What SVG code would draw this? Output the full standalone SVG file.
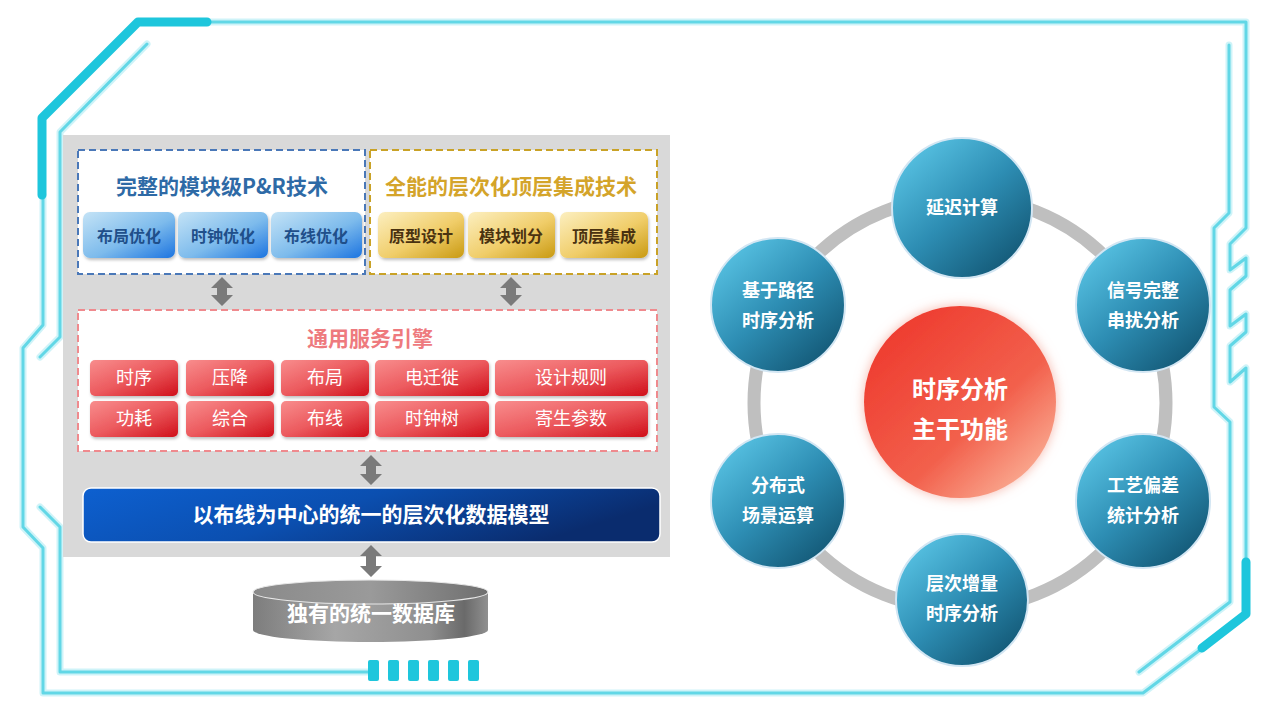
<svg xmlns="http://www.w3.org/2000/svg" width="1265" height="712" viewBox="0 0 1265 712">
<defs>
<style>
.fr{fill:none;stroke:#62d7e6;stroke-width:3;stroke-linecap:round;stroke-linejoin:round}
.frg{fill:none;stroke:#c2f0f6;stroke-width:7;stroke-linecap:round;stroke-linejoin:round;opacity:.8}
.frt{fill:none;stroke:#1ec6dc;stroke-width:9;stroke-linecap:round;stroke-linejoin:round}
.t{font-family:"Noto Sans CJK SC","Noto Sans",sans-serif;text-anchor:middle}
.b{font-weight:bold}
.bb{fill:url(#gBlue)}
.gb{fill:url(#gGold)}
.rb{fill:url(#gRed)}
.bt{font-size:16px;font-weight:bold;fill:#1f4f8a}
.gt{font-size:16px;font-weight:bold;fill:#4a3210}
.rt{font-size:18px;fill:#ffffff}
.node{fill:url(#gNode);stroke:#d3e6f3;stroke-width:2}
.nt{font-size:18px;font-weight:bold;fill:#ffffff}
.arr{fill:#7a7a7a}
</style>
<linearGradient id="gBlue" x1="0" y1="0" x2="1" y2="1"><stop offset="0" stop-color="#c4e3f6"/><stop offset="0.55" stop-color="#7dbbec"/><stop offset="1" stop-color="#1c74e0"/></linearGradient>
<linearGradient id="gGold" x1="0" y1="0" x2="1" y2="1"><stop offset="0" stop-color="#fcefc0"/><stop offset="0.55" stop-color="#f0cd69"/><stop offset="1" stop-color="#c99a12"/></linearGradient>
<linearGradient id="gRed" x1="0" y1="0" x2="1" y2="1"><stop offset="0" stop-color="#f88d8d"/><stop offset="0.5" stop-color="#ec5a5e"/><stop offset="1" stop-color="#d0101a"/></linearGradient>
<linearGradient id="gBar" x1="0" y1="0" x2="1" y2="0.3"><stop offset="0" stop-color="#0d60d0"/><stop offset="0.5" stop-color="#0b4fb0"/><stop offset="1" stop-color="#0a2c6e"/></linearGradient>
<linearGradient id="gNode" x1="0.15" y1="0.1" x2="0.85" y2="0.9"><stop offset="0" stop-color="#55bfe0"/><stop offset="0.5" stop-color="#2d8db3"/><stop offset="1" stop-color="#145a78"/></linearGradient>
<linearGradient id="gCenter" x1="0.1" y1="0.1" x2="0.9" y2="0.95"><stop offset="0" stop-color="#ee3a2e"/><stop offset="0.6" stop-color="#f2604c"/><stop offset="1" stop-color="#fbb59b"/></linearGradient>
<linearGradient id="gCyl" x1="0" y1="0" x2="1" y2="0"><stop offset="0" stop-color="#7d7d7d"/><stop offset="0.35" stop-color="#a6a6a6"/><stop offset="0.75" stop-color="#8f8f8f"/><stop offset="0.9" stop-color="#6a6a6a"/><stop offset="1" stop-color="#909090"/></linearGradient>
<linearGradient id="gCylTop" x1="0" y1="0" x2="1" y2="0"><stop offset="0" stop-color="#8a8a8a"/><stop offset="0.5" stop-color="#9a9a9a"/><stop offset="1" stop-color="#6f6f6f"/></linearGradient>
<filter id="glow" x="-20%" y="-20%" width="140%" height="140%"><feGaussianBlur stdDeviation="6" result="b"/><feFlood flood-color="#f29a8a" flood-opacity="0.7"/><feComposite in2="b" operator="in"/><feMerge><feMergeNode/><feMergeNode in="SourceGraphic"/></feMerge></filter>
<filter id="sh" x="-10%" y="-10%" width="120%" height="130%"><feDropShadow dx="1" dy="2" stdDeviation="1.5" flood-color="#000" flood-opacity="0.25"/></filter>
</defs>
<rect width="1265" height="712" fill="#ffffff"/>

<g id="frame">
<path class="frg" d="M207,22 H1246 V228 L1230,244 V270 L1246,258 V276 L1230,290 V326 L1246,314 V332 L1230,346 V382 L1246,368 V560"/>
<path class="frg" d="M1200,650 L1143,693 H43 V548 L23,527 V348 L43,325 V195"/>
<path class="frg" d="M147,44 L60,132 V337 L40,357 M40,507 L60,527 V672 H368"/>
<path class="frg" d="M1229,45 V213 L1214,228 V407 L1230,422 V602 L1139,672"/>
<path class="fr" d="M207,22 H1246 V228 L1230,244 V270 L1246,258 V276 L1230,290 V326 L1246,314 V332 L1230,346 V382 L1246,368 V560"/>
<path class="fr" d="M1200,650 L1143,693 H43 V548 L23,527 V348 L43,325 V195"/>
<path class="fr" d="M147,44 L60,132 V337 L40,357 M40,507 L60,527 V672 H368"/>
<path class="fr" d="M1229,45 V213 L1214,228 V407 L1230,422 V602 L1139,672"/>
<path class="frt" d="M207,22 H138 L42,118 V195"/>
<path class="frt" d="M1246,562 V614 L1202,648"/>
<g fill="#1ec6dc">
<rect x="368" y="660" width="11" height="21" rx="2"/>
<rect x="388" y="660" width="11" height="21" rx="2"/>
<rect x="408" y="660" width="11" height="21" rx="2"/>
<rect x="428" y="660" width="11" height="21" rx="2"/>
<rect x="448" y="660" width="11" height="21" rx="2"/>
<rect x="468" y="660" width="11" height="21" rx="2"/>
</g>
</g>

<g id="panel">
<rect x="63" y="135" width="607" height="422" fill="#d9d9d9"/>
</g>

<g id="pr-tech">
<rect x="78" y="150" width="287" height="124" fill="#ffffff" stroke="#4a78b8" stroke-width="2" stroke-dasharray="7,4"/>
<text class="t b" x="222" y="194" font-size="21" fill="#2e6aa6">完整的模块级P&amp;R技术</text>
<g filter="url(#sh)">
<rect class="bb" x="83" y="212" width="92" height="46" rx="7"/>
<rect class="bb" x="178" y="212" width="90" height="46" rx="7"/>
<rect class="bb" x="271" y="212" width="91" height="46" rx="7"/>
</g>
<text class="t bt" x="129" y="242">布局优化</text>
<text class="t bt" x="223" y="242">时钟优化</text>
<text class="t bt" x="316" y="242">布线优化</text>
</g>

<g id="top-integration">
<rect x="370" y="150" width="287" height="124" fill="#ffffff" stroke="#c9a227" stroke-width="2" stroke-dasharray="7,4"/>
<text class="t b" x="511" y="194" font-size="21" fill="#d4a42a">全能的层次化顶层集成技术</text>
<g filter="url(#sh)">
<rect class="gb" x="378" y="212" width="86" height="46" rx="7"/>
<rect class="gb" x="468" y="212" width="87" height="46" rx="7"/>
<rect class="gb" x="560" y="212" width="88" height="46" rx="7"/>
</g>
<text class="t gt" x="421" y="242">原型设计</text>
<text class="t gt" x="511" y="242">模块划分</text>
<text class="t gt" x="604" y="242">顶层集成</text>
</g>

<g id="service-engine">
<rect x="78" y="310" width="579" height="141" fill="#ffffff" stroke="#ef8a8e" stroke-width="2" stroke-dasharray="7,4"/>
<text class="t b" x="370" y="346" font-size="21" fill="#ee7a7e">通用服务引擎</text>
<g filter="url(#sh)">
<rect class="rb" x="90" y="360" width="88" height="36" rx="5"/>
<rect class="rb" x="186" y="360" width="88" height="36" rx="5"/>
<rect class="rb" x="281" y="360" width="88" height="36" rx="5"/>
<rect class="rb" x="375" y="360" width="114" height="36" rx="5"/>
<rect class="rb" x="495" y="360" width="153" height="36" rx="5"/>
<rect class="rb" x="90" y="401" width="88" height="36" rx="5"/>
<rect class="rb" x="186" y="401" width="88" height="36" rx="5"/>
<rect class="rb" x="281" y="401" width="88" height="36" rx="5"/>
<rect class="rb" x="375" y="401" width="114" height="36" rx="5"/>
<rect class="rb" x="495" y="401" width="153" height="36" rx="5"/>
</g>
<text class="t rt" x="134" y="384">时序</text>
<text class="t rt" x="230" y="384">压降</text>
<text class="t rt" x="325" y="384">布局</text>
<text class="t rt" x="432" y="384">电迁徙</text>
<text class="t rt" x="571" y="384">设计规则</text>
<text class="t rt" x="134" y="425">功耗</text>
<text class="t rt" x="230" y="425">综合</text>
<text class="t rt" x="325" y="425">布线</text>
<text class="t rt" x="432" y="425">时钟树</text>
<text class="t rt" x="571" y="425">寄生参数</text>
</g>

<g id="data-model">
<rect x="83" y="488" width="577" height="54" rx="8" fill="url(#gBar)" stroke="#ffffff" stroke-width="1.5"/>
<text class="t b" x="371" y="522" font-size="21" fill="#ffffff">以布线为中心的统一的层次化数据模型</text>
</g>

<g id="database">
<path d="M253,592 V630 A117.5,12 0 0 0 488,630 V592 Z" fill="url(#gCyl)"/>
<ellipse cx="370.5" cy="592" rx="117.5" ry="12" fill="url(#gCylTop)" stroke="#e8e8e8" stroke-width="1.2"/>
<text class="t b" x="371" y="621" font-size="21" fill="#ffffff">独有的统一数据库</text>
</g>

<g id="connectors">
<path class="arr" d="M222,277 L233,288 H227 V295 H233 L222,306 L211,295 H217 V288 H211 Z"/>
<path class="arr" d="M511,277 L522,288 H516 V295 H522 L511,306 L500,295 H506 V288 H500 Z"/>
<path class="arr" d="M371,455 L382,466 H376 V474 H382 L371,485 L360,474 H366 V466 H360 Z"/>
<path class="arr" d="M371,545 L382,556 H376 V566 H382 L371,577 L360,566 H366 V556 H360 Z"/>
<circle cx="960" cy="403" r="206" fill="none" stroke="#bfbfbf" stroke-width="13"/>
</g>

<g id="center">
<circle cx="960" cy="402" r="96" fill="url(#gCenter)" filter="url(#glow)"/>
<text class="t b" x="960" y="398" font-size="24" fill="#ffffff">时序分析</text>
<text class="t b" x="960" y="438" font-size="24" fill="#ffffff">主干功能</text>
</g>

<g id="n-delay">
<circle class="node" cx="962" cy="208" r="70"/>
<text class="t nt" x="962" y="214">延迟计算</text>
</g>
<g id="n-path">
<circle class="node" cx="778" cy="305" r="67"/>
<text class="t nt" x="778" y="297">基于路径</text>
<text class="t nt" x="778" y="327">时序分析</text>
</g>
<g id="n-si">
<circle class="node" cx="1143" cy="305" r="67"/>
<text class="t nt" x="1143" y="297">信号完整</text>
<text class="t nt" x="1143" y="327">串扰分析</text>
</g>
<g id="n-dist">
<circle class="node" cx="778" cy="501" r="67"/>
<text class="t nt" x="778" y="492">分布式</text>
<text class="t nt" x="778" y="522">场景运算</text>
</g>
<g id="n-var">
<circle class="node" cx="1143" cy="501" r="67"/>
<text class="t nt" x="1143" y="492">工艺偏差</text>
<text class="t nt" x="1143" y="522">统计分析</text>
</g>
<g id="n-incr">
<circle class="node" cx="962" cy="600" r="66"/>
<text class="t nt" x="962" y="590">层次增量</text>
<text class="t nt" x="962" y="620">时序分析</text>
</g>
</svg>
